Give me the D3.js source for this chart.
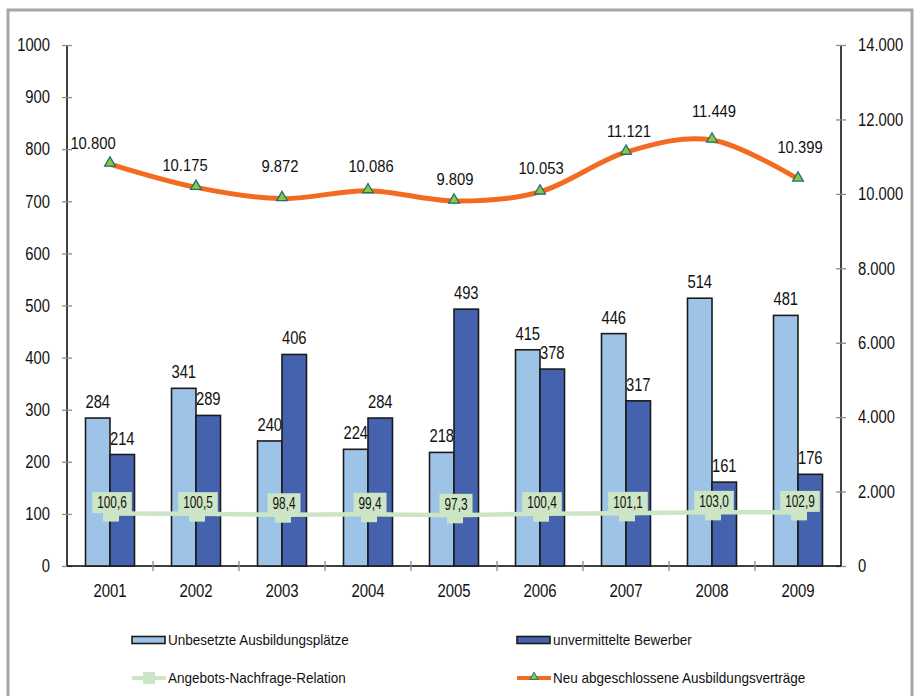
<!DOCTYPE html>
<html>
<head>
<meta charset="utf-8">
<script src="https://cdn.jsdelivr.net/npm/d3@7"></script>
<style>
  body { margin: 0; background: #fff; }
  text { font-family: "Liberation Sans", Arial, sans-serif; fill: #111; }
</style>
</head>
<body>
<svg id="chart" width="914" height="696"></svg>
<script>
// Chart data
var years = ["2001", "2002", "2003", "2004", "2005", "2006", "2007", "2008", "2009"];
var unbesetzt = [284, 341, 240, 224, 218, 415, 446, 514, 481];
var unvermittelt = [214, 289, 406, 284, 493, 378, 317, 161, 176];
var relation = [100.6, 100.5, 98.4, 99.4, 97.3, 100.4, 101.1, 103.0, 102.9];
var vertraege = [10800, 10175, 9872, 10086, 9809, 10053, 11121, 11449, 10399];
var leftTicks = [0, 100, 200, 300, 400, 500, 600, 700, 800, 900, 1000];
var rightTicks = [0, 2000, 4000, 6000, 8000, 10000, 12000, 14000];

var seriesNames = ["Unbesetzte Ausbildungsplätze", "unvermittelte Bewerber",
                   "Angebots-Nachfrage-Relation", "Neu abgeschlossene Ausbildungsverträge"];

var de = d3.formatLocale({ decimal: ",", thousands: ".", grouping: [3], currency: ["", " €"] });
var fmtThousands = de.format(",");
var fmtOneDec = de.format(",.1f");

var svg = d3.select("#chart");

// squeeze text horizontally (the original uses a narrow font)
function condense(sel, ratio) {
	sel.each(function() {
		var w = this.getComputedTextLength();
		d3.select(this)
			.attr("textLength", w * ratio)
			.attr("lengthAdjust", "spacingAndGlyphs");
	});
}

// Outer frame
svg.append("rect")
	.attr("x", 8).attr("y", 10)
	.attr("width", 904).attr("height", 700)
	.attr("fill", "none")
	.attr("stroke", "#a6a6a6")
	.attr("stroke-width", 3);

var x = d3.scaleBand().domain(years).range([67, 841]);
var xSub = d3.scaleBand().domain([0, 1]).range([18.5, 67.5]);
var yLeft = d3.scaleLinear().domain([0, 1000]).range([566, 45]);
var yRight = d3.scaleLinear().domain([0, 14000]).range([566, 45]);

var barColors = ["#9dc3e6", "#4462ad"];

// Axes (gray cross ticks, black lines)
var leftAxis = svg.append("g").attr("transform", "translate(67,0)")
	.call(d3.axisLeft(yLeft).tickValues(leftTicks).tickSize(5).tickPadding(12).tickFormat(d3.format("d")));
leftAxis.selectAll(".tick line").attr("x2", -5).attr("x1", 5);

var rightAxis = svg.append("g").attr("transform", "translate(841,0)")
	.call(d3.axisRight(yRight).tickValues(rightTicks).tickSize(5).tickPadding(12).tickFormat(fmtThousands));
rightAxis.selectAll(".tick line").attr("x2", 5).attr("x1", -5);

var bottomAxis = svg.append("g").attr("transform", "translate(0,566)")
	.call(d3.axisBottom(x).tickSize(0).tickPadding(18));

[leftAxis, rightAxis, bottomAxis].forEach(function(a) {
	a.select(".domain").attr("stroke", "#000").attr("stroke-width", 1.5);
	a.selectAll(".tick line").attr("stroke", "#8c8c8c").attr("stroke-width", 1.3);
	a.selectAll("text").style("font-size", "18px").attr("fill", "#111");
});
leftAxis.select(".domain").attr("d", "M0," + yLeft(1000) + "V" + yLeft(0));
rightAxis.select(".domain").attr("d", "M0," + yRight(14000) + "V" + yRight(0));
bottomAxis.select(".domain").attr("d", "M67,0H841");

// category separator ticks on the x axis
svg.append("g").selectAll("line")
	.data(years.slice(1))
	.enter().append("line")
	.attr("x1", function(d) { return x(d); })
	.attr("x2", function(d) { return x(d); })
	.attr("y1", 561).attr("y2", 571)
	.attr("stroke", "#8c8c8c")
	.attr("stroke-width", 1.3);

// Bars
var barSeries = [unbesetzt, unvermittelt];
barSeries.forEach(function(values, s) {
	svg.append("g").selectAll("rect")
		.data(values)
		.enter().append("rect")
		.attr("x", function(d, i) { return x(years[i]) + xSub(s); })
		.attr("y", function(d) { return yLeft(d); })
		.attr("width", xSub.bandwidth())
		.attr("height", function(d) { return yLeft(0) - yLeft(d); })
		.attr("fill", barColors[s])
		.attr("stroke", "#1b1b1b")
		.attr("stroke-width", 1.6);

	svg.append("g").selectAll("text")
		.data(values)
		.enter().append("text")
		.attr("class", "barlabel")
		.attr("x", function(d, i) { return x(years[i]) + xSub(s) + xSub.bandwidth() / 2; })
		.attr("y", function(d) { return yLeft(d) - 10; })
		.attr("text-anchor", "middle")
		.style("font-size", "18px")
		.text(function(d) { return d; });
});

var cx = function(i) { return x(years[i]) + x.bandwidth() / 2; };

// Angebots-Nachfrage-Relation (left axis)
var green = "#cce5c4";
svg.append("path")
	.datum(relation)
	.attr("fill", "none")
	.attr("stroke", green)
	.attr("stroke-width", 4.5)
	.attr("d", d3.line()
		.x(function(d, i) { return cx(i); })
		.y(function(d) { return yLeft(d); }));

svg.append("g").selectAll("rect")
	.data(relation)
	.enter().append("rect")
	.attr("x", function(d, i) { return cx(i) - 8 + 1; })
	.attr("y", function(d) { return yLeft(d) - 8; })
	.attr("width", 16).attr("height", 16)
	.attr("fill", green);

var relLabels = svg.append("g").selectAll("g")
	.data(relation)
	.enter().append("g")
	.attr("transform", function(d, i) { return "translate(" + (cx(i) + 2) + "," + (yLeft(d) - 11) + ")"; });
relLabels.append("rect").attr("fill", green).attr("y", -10.5).attr("height", 21);
relLabels.append("text")
	.attr("text-anchor", "middle")
	.attr("dy", "0.35em")
	.style("font-size", "16px")
	.text(function(d) { return fmtOneDec(d); });

// Neu abgeschlossene Ausbildungsverträge (right axis)
var orange = "#f26b21";
svg.append("path")
	.datum(vertraege)
	.attr("fill", "none")
	.attr("stroke", orange)
	.attr("stroke-width", 5)
	.attr("d", d3.line()
		.curve(d3.curveCardinal.tension(0))
		.x(function(d, i) { return cx(i); })
		.y(function(d) { return yRight(d); }));

var triangle = d3.symbol().type(d3.symbolTriangle).size(50);
svg.append("g").selectAll("path")
	.data(vertraege)
	.enter().append("path")
	.attr("d", triangle)
	.attr("transform", function(d, i) { return "translate(" + cx(i) + "," + (yRight(d) - 1) + ")"; })
	.attr("fill", "#8dc63f")
	.attr("stroke", "#1f6f78")
	.attr("stroke-width", 1.3);

// label nudges, as placed in the original
var lineLabelShift = [[-17, -21], [-11, -22], [-2, -33], [3, -25], [1, -22], [1, -24], [3, -21], [2, -29], [2, -32]];
var lineLabels = svg.append("g").selectAll("text")
	.data(vertraege)
	.enter().append("text")
	.attr("x", function(d, i) { return cx(i) + lineLabelShift[i][0]; })
	.attr("y", function(d, i) { return yRight(d) + lineLabelShift[i][1]; })
	.attr("dy", "0.35em")
	.attr("text-anchor", "middle")
	.style("font-size", "17px")
	.text(function(d) { return fmtThousands(d); });

// Legend
var legend = svg.append("g");
var legendItems = [
	{ name: seriesNames[0], x: 132, y: 640, kind: "bar", color: barColors[0] },
	{ name: seriesNames[1], x: 517, y: 640, kind: "bar", color: barColors[1] },
	{ name: seriesNames[2], x: 132, y: 678, kind: "green" },
	{ name: seriesNames[3], x: 517, y: 678, kind: "orange" }
];
legendItems.forEach(function(it) {
	var g = legend.append("g").attr("transform", "translate(" + it.x + "," + it.y + ")");
	if (it.kind == "bar") {
		g.append("rect").attr("x", 0).attr("y", -3.5).attr("width", 33).attr("height", 7)
			.attr("fill", it.color).attr("stroke", "#1b1b1b").attr("stroke-width", 1.6);
	} else if (it.kind == "green") {
		g.append("line").attr("x1", 0).attr("x2", 34).attr("stroke", green).attr("stroke-width", 4);
		g.append("rect").attr("x", 11).attr("y", -6).attr("width", 12).attr("height", 12).attr("fill", green);
	} else {
		g.append("line").attr("x1", 0).attr("x2", 34).attr("stroke", orange).attr("stroke-width", 4);
		g.append("path").attr("d", d3.symbol().type(d3.symbolTriangle).size(30))
			.attr("transform", "translate(17,-1)")
			.attr("fill", "#8dc63f").attr("stroke", "#1f6f78").attr("stroke-width", 1);
	}
	g.append("text").attr("x", 36).attr("dy", "0.35em")
		.style("font-size", "15px").text(it.name);
});

// size the label boxes to their text, then narrow the type
var relRatio = 0.74;
relLabels.each(function() {
	var w = d3.select(this).select("text").node().getComputedTextLength() * relRatio;
	d3.select(this).select("rect").attr("x", -w / 2 - 5).attr("width", w + 10);
});
condense(leftAxis.selectAll("text"), 0.82);
condense(rightAxis.selectAll("text"), 0.82);
condense(bottomAxis.selectAll("text"), 0.83);
condense(svg.selectAll("text.barlabel"), 0.82);
condense(relLabels.selectAll("text"), relRatio);
condense(lineLabels, 0.87);
condense(legend.selectAll("text"), 0.9);
</script>
</body>
</html>
